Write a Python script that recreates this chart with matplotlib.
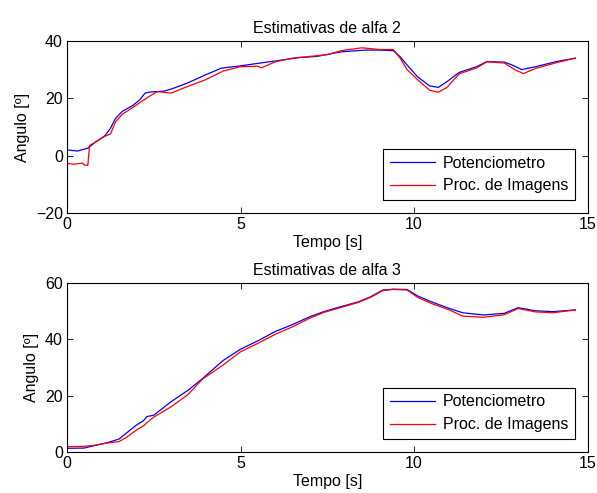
import matplotlib
matplotlib.use("Agg")
import matplotlib.pyplot as plt

plt.rcParams["font.family"] = ["Liberation Sans", "DejaVu Sans"]
plt.rcParams["font.size"] = 11.5

# alfa 2
t2_pot = [0, 0.3, 0.6, 0.8, 1.1, 1.25, 1.4, 1.6, 1.9, 2.1, 2.25, 2.4, 2.8, 3.0, 3.45,
          4.0, 4.45, 5.0, 5.4, 6.0, 6.7, 7.2, 7.9, 8.6, 9.0, 9.4, 9.6, 9.8, 10.1, 10.45,
          10.7, 10.95, 11.3, 11.8, 12.1, 12.6, 12.85, 13.1, 13.5, 14.1, 14.65]
a2_pot = [2.0, 1.6, 2.6, 4.5, 7.0, 9.5, 13.0, 15.5, 17.5, 19.5, 21.8, 22.2, 22.5, 23.2, 25.2,
          28.2, 30.5, 31.3, 32.0, 33.0, 34.2, 34.6, 36.2, 36.8, 36.8, 36.6, 34.5, 31.6, 27.5, 24.3,
          23.8, 25.8, 29.0, 31.0, 32.8, 32.6, 31.5, 30.0, 31.0, 32.8, 34.0]
t2_img = [0, 0.2, 0.45, 0.5, 0.6, 0.65, 0.8, 1.1, 1.25, 1.4, 1.6, 1.9, 2.1, 2.35, 2.6,
          3.0, 3.45, 4.0, 4.5, 5.0, 5.5, 5.6, 6.0, 6.5, 7.0, 7.5, 7.9, 8.5, 9.0, 9.4,
          9.6, 9.8, 10.1, 10.45, 10.7, 10.95, 11.3, 11.8, 12.1, 12.6, 12.9, 13.15, 13.5, 14.1, 14.65]
a2_img = [-2.7, -3.0, -2.6, -3.3, -3.4, 3.5, 4.6, 6.8, 7.5, 11.8, 14.5, 16.8, 18.5, 20.5, 22.3,
          21.8, 24.0, 26.5, 29.5, 31.0, 31.2, 30.6, 32.7, 34.0, 34.6, 35.2, 36.6, 37.6, 37.0, 37.0,
          34.0, 30.0, 26.5, 22.8, 22.1, 23.8, 28.5, 30.6, 32.7, 32.3, 30.0, 28.6, 30.4, 32.4, 34.0]

# alfa 3
t3 = [0, 0.5, 0.8, 1.1, 1.5, 1.7, 2.0, 2.2, 2.3, 2.5, 3.0, 3.5, 3.9, 4.5, 5.0, 5.5, 6.0,
      6.5, 7.0, 7.4, 7.9, 8.4, 8.75, 9.1, 9.4, 9.8, 10.1, 10.5, 11.0, 11.4, 12.0, 12.6,
      13.0, 13.5, 14.0, 14.65]
a3_pot = [1.2, 1.3, 2.2, 3.0, 4.5, 6.5, 9.5, 11.0, 12.5, 13.0, 17.8, 22.0, 26.0, 32.5, 36.5,
          39.5, 42.8, 45.3, 48.1, 49.9, 51.7, 53.4, 55.2, 57.6, 57.9, 57.8, 55.5, 53.4, 51.1,
          49.5, 48.7, 49.3, 51.3, 50.2, 49.9, 50.5]
a3_img = [1.8, 1.9, 2.3, 3.0, 3.6, 5.0, 7.7, 9.2, 10.3, 12.3, 16.0, 20.5, 25.8, 30.9, 35.6,
          38.6, 41.8, 44.5, 47.6, 49.6, 51.4, 53.2, 55.0, 57.4, 57.8, 57.6, 55.0, 52.8, 50.6,
          48.3, 47.9, 48.8, 51.0, 49.8, 49.5, 50.5]

fig = plt.figure(figsize=(5.97, 4.93), dpi=100)
ax1 = fig.add_axes([0.1122, 0.568, 0.872, 0.349])
ax2 = fig.add_axes([0.1122, 0.0838, 0.872, 0.3416])


def estilo(ax, titulo, ylim, yticks):
    ax.set_xlim(0, 15)
    ax.set_ylim(*ylim)
    ax.set_xticks([0, 5, 10, 15])
    ax.set_yticks(yticks)
    ax.tick_params(direction="in", top=True, right=True, length=4, width=0.6,
                   labelsize=11.5, pad=3)
    for s in ax.spines.values():
        s.set_linewidth(0.8)
    ax.set_title(titulo, fontsize=11.5, pad=6)
    ax.set_xlabel("Tempo [s]", fontsize=11.5, labelpad=2)
    ax.set_ylabel("Angulo [º]", fontsize=11.5, labelpad=4)
    leg = ax.legend(["Potenciometro", "Proc. de Imagens"], loc="lower right", fancybox=False,
                    framealpha=1, edgecolor="black", handlelength=2.8, borderaxespad=0.8,
                    borderpad=0.42, labelspacing=0.5, handletextpad=0.5, fontsize=11.5)
    leg.get_frame().set_linewidth(0.8)


ax1.plot(t2_pot, a2_pot, color=(0, 0, 1), lw=0.9)
ax1.plot(t2_img, a2_img, color=(1, 0, 0), lw=0.9)
estilo(ax1, "Estimativas de alfa 2", (-20, 40), [-20, 0, 20, 40])

ax2.plot(t3, a3_pot, color=(0, 0, 1), lw=0.9)
ax2.plot(t3, a3_img, color=(1, 0, 0), lw=0.9)
estilo(ax2, "Estimativas de alfa 3", (0, 60), [0, 20, 40, 60])

fig.savefig("out.png", dpi=100)
